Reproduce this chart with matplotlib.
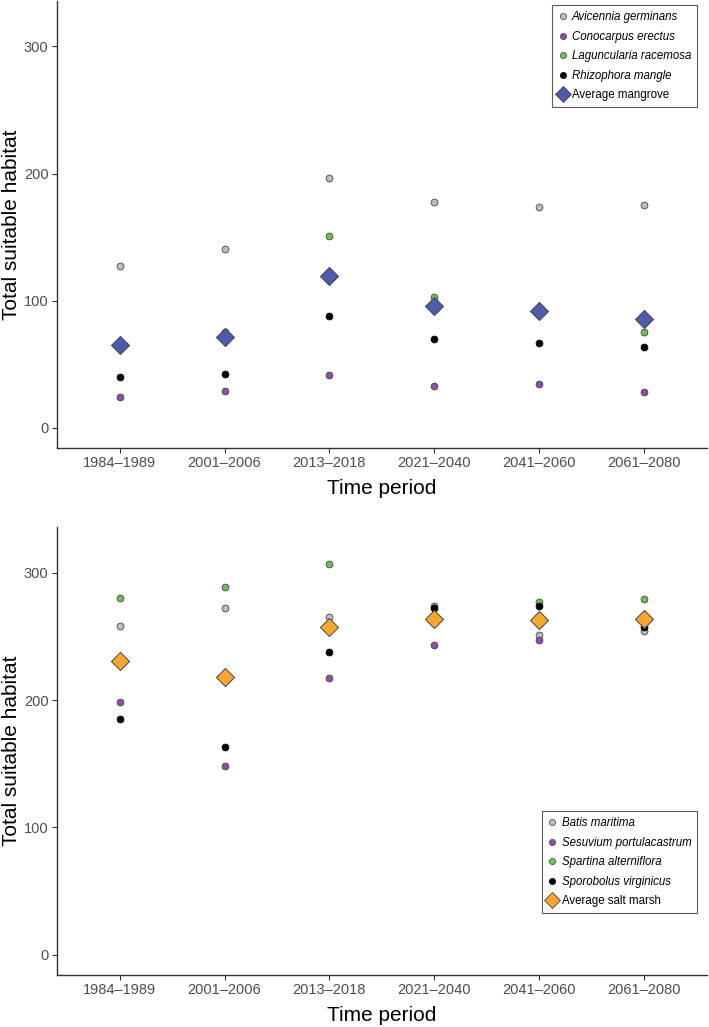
import matplotlib
matplotlib.use("Agg")
import matplotlib.pyplot as plt
from matplotlib.lines import Line2D

plt.rcParams['font.family'] = ['Liberation Sans', 'DejaVu Sans']

periods = ["1984\u20131989", "2001\u20132006", "2013\u20132018", "2021\u20132040", "2041\u20132060", "2061\u20132080"]

# Mangrove panel
avicennia = [127, 140.5, 196.5, 177.5, 173.5, 175]
conocarpus = [24.5, 28.5, 41.5, 33, 34, 28]
laguncularia = [68, 75.5, 150.5, 103, 90.5, 75]
rhizophora = [40, 42, 87.5, 69.5, 67, 63.5]
avg_mangrove = [65, 71.5, 119, 95.5, 91.5, 85.5]

# Salt marsh panel
batis = [258.5, 272, 265.5, 265, 251, 254.5]
sesuvium = [198.5, 148.5, 217, 243.5, 247.5, 263]
spartina = [280.5, 289, 306.5, 274, 277, 279]
sporobolus = [185, 163, 237.5, 272.5, 274, 257]
avg_saltmarsh = [230.5, 218, 257, 263.5, 262.5, 263.5]

yticks = [0, 100, 200, 300]

c_grey = "#bdbdbd"
c_purple = "#8e50a8"
c_green = "#6dbf55"
c_black = "#000000"
c_blue = "#4f5aab"
c_orange = "#f7a632"
edge = "#444444"

fig = plt.figure(figsize=(7.09, 10.27), dpi=100)
ax1 = fig.add_axes([0.080, 0.5638, 0.917, 0.4355])
ax2 = fig.add_axes([0.080, 0.0506, 0.917, 0.4364])

def draw(ax, series, avg, avg_color, avg_label):
    x = list(range(len(periods)))
    for vals, col, lab in series:
        ax.scatter(x, vals, s=24, c=col, edgecolors=edge if col != c_black else c_black,
                   linewidths=0.6, zorder=3, label=lab)
    ax.scatter(x, avg, s=85, marker='D', c=avg_color, edgecolors=edge, linewidths=0.7,
               zorder=4, label=avg_label)
    ax.set_xlim(-0.6, len(periods) - 0.4)
    ax.set_ylim(-16, 336)
    ax.set_xticks(x)
    ax.set_xticklabels(periods)
    ax.set_yticks(yticks)
    for s in ['top', 'right']:
        ax.spines[s].set_visible(False)
    for s in ['left', 'bottom']:
        ax.spines[s].set_color('#333333')
        ax.spines[s].set_linewidth(1.0)
    ax.tick_params(axis='both', colors='#333333', labelcolor='#4d4d4d', labelsize=10.5,
                   length=3.5, width=0.8, direction='out', pad=2.5)
    ax.set_ylabel("Total suitable habitat", fontsize=15, color='black', labelpad=2)
    ax.set_xlabel("Time period", fontsize=15, color='black', labelpad=6)

draw(ax1, [(avicennia, c_grey, "Avicennia germinans"),
           (conocarpus, c_purple, "Conocarpus erectus"),
           (laguncularia, c_green, "Laguncularia racemosa"),
           (rhizophora, c_black, "Rhizophora mangle")],
     avg_mangrove, c_blue, "Average mangrove")

draw(ax2, [(batis, c_grey, "Batis maritima"),
           (sesuvium, c_purple, "Sesuvium portulacastrum"),
           (spartina, c_green, "Spartina alterniflora"),
           (sporobolus, c_black, "Sporobolus virginicus")],
     avg_saltmarsh, c_orange, "Average salt marsh")

def legend(ax, labels, cols, avg_color, avg_label, loc, anchor):
    handles = []
    for lab, col in zip(labels, cols):
        handles.append(Line2D([], [], marker='o', linestyle='none', markersize=4.5,
                              markerfacecolor=col, markeredgecolor=edge if col != c_black else c_black,
                              markeredgewidth=0.5, label=lab))
    handles.append(Line2D([], [], marker='D', linestyle='none', markersize=8,
                          markerfacecolor=avg_color, markeredgecolor=edge, markeredgewidth=0.6,
                          label=avg_label))
    leg = ax.legend(handles=handles, loc=loc, bbox_to_anchor=anchor, frameon=True,
                    fancybox=False, edgecolor='#333333', fontsize=8.3, handlelength=0.8,
                    handletextpad=0.4, borderpad=0.5, labelspacing=0.66, borderaxespad=0)
    leg.get_frame().set_linewidth(0.8)
    for t in leg.get_texts()[:-1]:
        t.set_fontstyle('italic')
    return leg

legend(ax1, ["Avicennia germinans", "Conocarpus erectus", "Laguncularia racemosa", "Rhizophora mangle"],
       [c_grey, c_purple, c_green, c_black], c_blue, "Average mangrove",
       'upper right', (0.985, 0.99))
legend(ax2, ["Batis maritima", "Sesuvium portulacastrum", "Spartina alterniflora", "Sporobolus virginicus"],
       [c_grey, c_purple, c_green, c_black], c_orange, "Average salt marsh",
       'lower right', (0.985, 0.138))

fig.savefig("out.png", dpi=100)
